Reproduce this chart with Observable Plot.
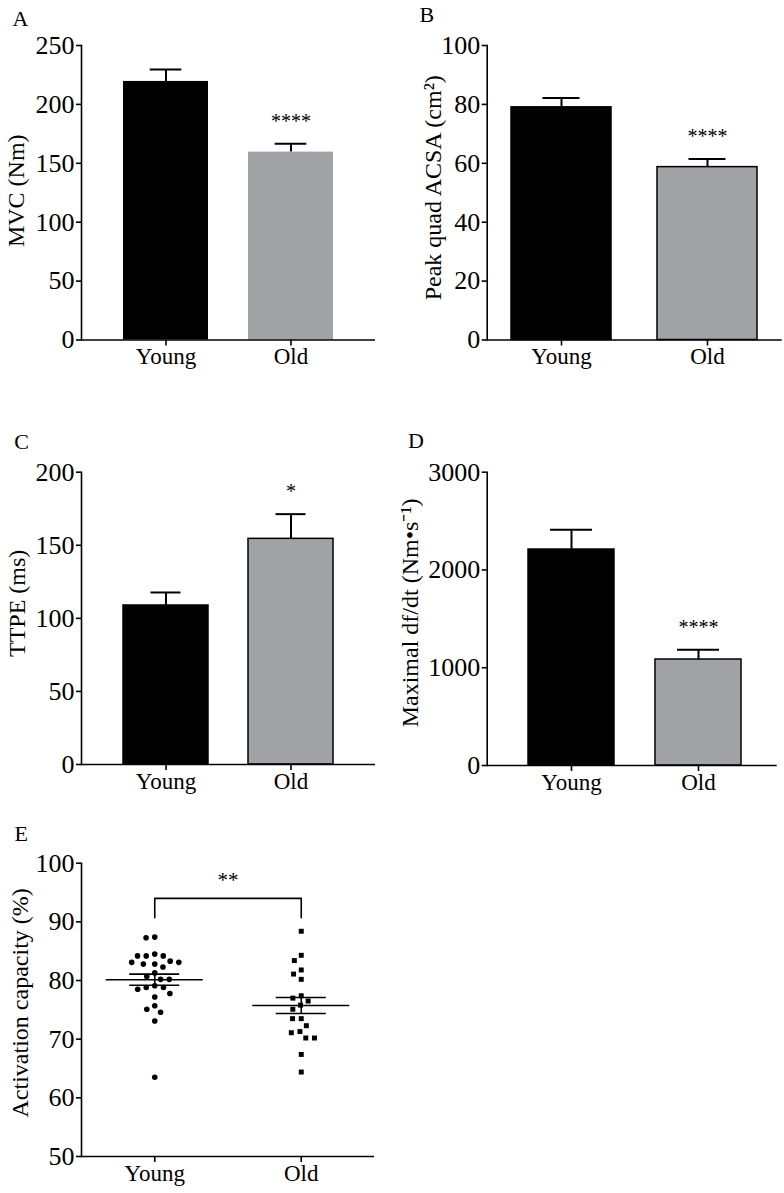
<!DOCTYPE html>
<html><head><meta charset="utf-8">
<script src="https://cdn.jsdelivr.net/npm/d3@7"></script>
<script src="https://cdn.jsdelivr.net/npm/@observablehq/plot@0.6"></script>
<style>
html,body{margin:0;padding:0;background:#fff;}
#page{position:relative;width:784px;height:1193px;overflow:hidden;background:#fff;font-family:"Liberation Serif","Times New Roman",Times,serif;}
.panel{position:absolute;}
.letter{position:absolute;font-size:22px;line-height:22px;color:#000;}
</style></head>
<body><div id="page"></div>
<script>
// ---------------- data ----------------
const groups = ["Young", "Old"];

const mvcMean = [219.5, 159.5];
const mvcSem = [10.1, 7.0];
const mvcStars = ["", "****"];
const mvcTicks = [0, 50, 100, 150, 200, 250];

const acsaMean = [79.0, 58.7];
const acsaSem = [3.2, 2.8];
const acsaStars = ["", "****"];
const acsaTicks = [0, 20, 40, 60, 80, 100];

const ttpeMean = [108.8, 154.4];
const ttpeSem = [8.9, 16.9];
const ttpeStars = ["", "*"];
const ttpeTicks = [0, 50, 100, 150, 200];

const dfdtMean = [2209, 1084];
const dfdtSem = [202, 99];
const dfdtStars = ["", "****"];
const dfdtTicks = [0, 1000, 2000, 3000];

const youngActivation = [87.3, 87.4, 84.5, 84.2, 84.2, 84.2, 83.1, 82.8, 82.3, 82.8, 83.1, 83.3,
  81.3, 80.7, 80.2, 80.2, 78.8, 78.8, 79.1, 78.5, 77.8, 77.2, 75.7, 75.1, 74.6, 73.1, 63.5];
const oldActivation = [88.4, 83.4, 84.3, 81.8, 81.1, 80.2, 77.4, 77.0, 76.5, 75.1, 75.8,
  73.5, 73.5, 72.3, 71.1, 71.3, 70.2, 70.2, 67.4, 64.4];
const activationTicks = [50, 60, 70, 80, 90, 100];
const activationStars = "**";
const bracketLevel = 94.0;
const bracketLegEnd = 90.7;

// ---------------- style ----------------
const FONT = '"Liberation Serif", "Times New Roman", Times, serif';
const BLACK = "#000000";
const GRAY = "#a1a2a5";
const page = document.getElementById("page");

function place(svg, left, top, width) {
  const d = document.createElement("div");
  d.className = "panel";
  d.style.left = left + "px";
  d.style.top = top + "px";
  d.style.width = width + "px";
  d.appendChild(svg);
  page.appendChild(d);
}
function letter(txt, left, top) {
  const d = document.createElement("div");
  d.className = "letter";
  d.style.left = left + "px";
  d.style.top = top + "px";
  d.textContent = txt;
  page.appendChild(d);
}

function axisBits(o) {
  return [
    Plot.ruleY([o.domain[0]], {stroke: BLACK, strokeWidth: 1.6}),
    Plot.frame({anchor: "left", stroke: BLACK, strokeWidth: 1.6}),
    Plot.axisY(o.ticks, {tickSize: 5, tickPadding: 2, fontSize: 26, tickFormat: d => String(d),
      stroke: BLACK, strokeWidth: 1.6, label: null, fill: BLACK}),
    Plot.text([o.label], {text: d => d, frameAnchor: "left", rotate: -90, dx: o.labelDx, dy: o.labelDy,
      lineAnchor: "top", textAnchor: "middle", fontSize: 24, fill: BLACK})
  ];
}

function barPanel(o) {
  const rows = groups.map((g, i) => ({group: g, mean: o.mean[i], top: o.mean[i] + o.sem[i], star: o.stars[i]}));
  return Plot.plot({
    width: 392, height: o.height,
    marginLeft: o.ml, marginRight: o.mr, marginTop: o.mt, marginBottom: o.mb,
    style: {fontFamily: FONT, fontSize: "23px", color: BLACK, background: "transparent", overflow: "visible"},
    x: {domain: groups, paddingInner: o.pi, paddingOuter: o.po, align: o.align, axis: null},
    y: {domain: o.domain, axis: null},
    color: {domain: groups, range: [BLACK, GRAY]},
    marks: [
      Plot.barY(rows, {x: "group", y: "mean", fill: "group",
        stroke: o.outline ? BLACK : "none", strokeWidth: 1.5}),
      Plot.ruleX(rows, {x: "group", y1: "mean", y2: "top", stroke: BLACK, strokeWidth: 2}),
      Plot.tickY(rows, {x: "group", y: "top", stroke: BLACK, strokeWidth: 2,
        insetLeft: o.cap, insetRight: o.cap}),
      Plot.text(rows.filter(d => d.star), {x: "group", y: "top", text: "star", dy: -22.4,
        fontSize: 20, lineAnchor: "middle", fill: BLACK}),
      ...axisBits(o),
      Plot.axisX({tickSize: 6, tickPadding: 2, fontSize: 23, stroke: BLACK, strokeWidth: 1.6,
        label: null, fill: BLACK})
    ]
  });
}

// Panel A
place(barPanel({mean: mvcMean, sem: mvcSem, stars: mvcStars, ticks: mvcTicks, domain: [0, 250],
  label: "MVC (Nm)", height: 385, ml: 81, mr: 17, mt: 45, mb: 45.5,
  pi: 0.32, po: 0.33, align: 0.5, cap: 26.7, outline: false, labelDx: -74.3, labelDy: -2}), 0, 0, 392);
letter("A", 12.5, 7.6);

// Panel B
place(barPanel({mean: acsaMean, sem: acsaSem, stars: acsaStars, ticks: acsaTicks, domain: [0, 100],
  label: "Peak quad ACSA (cm\u00B2)", height: 385, ml: 94.7, mr: 2.3, mt: 45, mb: 45.5,
  pi: 0.317, po: 0.165, align: 0.5, cap: 31.5, outline: true, labelDx: -63.7, labelDy: -5}), 392, 0, 392);
letter("B", 419.5, 4.3);

// Panel C
place(barPanel({mean: ttpeMean, sem: ttpeSem, stars: ttpeStars, ticks: ttpeTicks, domain: [0, 200],
  label: "TTPE (ms)", height: 390, ml: 81, mr: 17, mt: 51.7, mb: 46,
  pi: 0.32, po: 0.33, align: 0.5, cap: 27.5, outline: true, labelDx: -73.7, labelDy: -15}), 0, 420, 392);
letter("C", 14.3, 430.6);

// Panel D
place(barPanel({mean: dfdtMean, sem: dfdtSem, stars: dfdtStars, ticks: dfdtTicks, domain: [0, 3000],
  label: "Maximal df/dt (Nm\u2022s\u207B\u00B9)", height: 390, ml: 94.7, mr: 7.3, mt: 51.7, mb: 45,
  pi: 0.323, po: 0.303, align: 0.536, cap: 22, outline: true, labelDx: -86.7, labelDy: -6}), 392, 420, 392);
letter("D", 408, 429.6);

// Panel E
(function () {
  const W = 392, H = 393, ml = 81, mr = 18, mt = 62.7, mb = 37;
  const xDomain = [0, 2], yDomain = [50, 100];
  const groupPos = [0.5, 1.5];
  const pxX = (W - ml - mr) / (xDomain[1] - xDomain[0]);
  const pxY = (H - mt - mb) / (yDomain[1] - yDomain[0]);
  const diameter = 8.7;
  function swarm(values, gi) {
    const order = values.map((v, i) => i).sort((a, b) => values[b] - values[a]);
    const placed = [];
    const out = [];
    for (const i of order) {
      const yi = values[i] * pxY;
      const cands = [0];
      for (const p of placed) {
        const dy = yi - p.y;
        if (Math.abs(dy) < diameter) {
          const dx = Math.sqrt(diameter * diameter - dy * dy);
          cands.push(p.x + dx, p.x - dx);
        }
      }
      cands.sort((a, b) => Math.abs(a) - Math.abs(b) || a - b);
      const xi = cands.find(c => placed.every(p => (p.x - c) ** 2 + (p.y - yi) ** 2 >= diameter * diameter - 1e-6));
      placed.push({x: xi, y: yi});
      out.push({group: groups[gi], value: values[i], x: groupPos[gi] + xi / pxX});
    }
    return out;
  }
  const youngPts = swarm(youngActivation, 0);
  const oldPts = swarm(oldActivation, 1);
  const stats = [youngActivation, oldActivation].map((v, i) => {
    const m = d3.mean(v), s = d3.deviation(v) / Math.sqrt(v.length);
    return {pos: groupPos[i], mean: m, lo: m - s, hi: m + s};
  });
  const meanHalf = 48.5 / pxX, semHalf = 25 / pxX;
  const semLines = stats.flatMap(d => [{pos: d.pos, y: d.lo}, {pos: d.pos, y: d.hi}]);
  const bracket = [
    {x: groupPos[0], y: bracketLegEnd}, {x: groupPos[0], y: bracketLevel},
    {x: groupPos[1], y: bracketLevel}, {x: groupPos[1], y: bracketLegEnd}
  ];
  const svg = Plot.plot({
    width: W, height: H, marginLeft: ml, marginRight: mr, marginTop: mt, marginBottom: mb,
    style: {fontFamily: FONT, fontSize: "23px", color: BLACK, background: "transparent", overflow: "visible"},
    x: {type: "linear", domain: xDomain, axis: null},
    y: {domain: yDomain, axis: null},
    marks: [
      Plot.dot(youngPts, {x: "x", y: "value", r: 2.8, fill: BLACK, stroke: "none"}),
      Plot.dot(oldPts, {x: "x", y: "value", r: 2.8, symbol: "square", fill: BLACK, stroke: "none"}),
      Plot.ruleY(stats, {y: "mean", x1: d => d.pos - meanHalf, x2: d => d.pos + meanHalf, stroke: BLACK, strokeWidth: 1.6}),
      Plot.ruleY(semLines, {y: "y", x1: d => d.pos - semHalf, x2: d => d.pos + semHalf, stroke: BLACK, strokeWidth: 1.6}),
      Plot.ruleX(stats, {x: "pos", y1: "lo", y2: "hi", stroke: BLACK, strokeWidth: 1.6}),
      Plot.line(bracket, {x: "x", y: "y", stroke: BLACK, strokeWidth: 1.6}),
      Plot.text([activationStars], {text: d => d, x: (groupPos[0] + groupPos[1]) / 2, y: bracketLevel,
        dy: -17.9, fontSize: 21, lineAnchor: "middle", fill: BLACK}),
      ...axisBits({domain: yDomain, ticks: activationTicks, label: "Activation capacity (%)", labelDx: -70.5, labelDy: -7}),
      Plot.axisX(groupPos, {tickSize: 6, tickPadding: 2, fontSize: 23, stroke: BLACK, strokeWidth: 1.6,
        tickFormat: d => groups[groupPos.indexOf(d)], label: null, fill: BLACK})
    ]
  });
  place(svg, 0, 800, W);
})();
letter("E", 14.5, 822.6);
</script>
</body></html>
